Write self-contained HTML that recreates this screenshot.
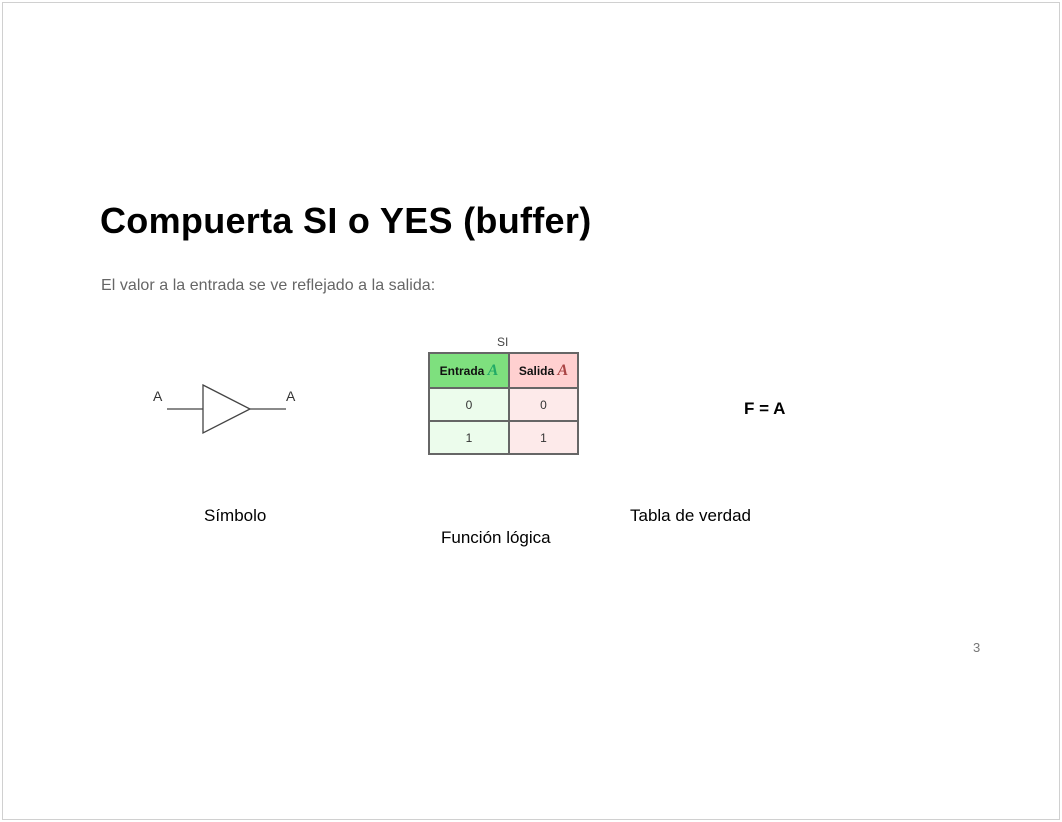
<!DOCTYPE html>
<html><head><style>
body{margin:0;width:1062px;height:822px;background:#fff;position:relative;overflow:hidden;font-family:"Liberation Sans",sans-serif}
.frame{position:absolute;left:2px;top:2px;width:1056px;height:816px;border:1px solid #d0d0d0}
.t{position:absolute;white-space:nowrap}
td{border:2px solid #666;text-align:center;font-size:12px;color:#333;padding:0}
</style></head><body>
<div class="frame"></div>
<div class="t" style="left:100px;top:200px;font-size:36px;font-weight:bold;color:#000;letter-spacing:0.3px">Compuerta SI o YES (buffer)</div>
<div class="t" style="left:101px;top:277px;font-size:16px;color:#666;letter-spacing:0.05px">El valor a la entrada se ve reflejado a la salida:</div>
<svg style="position:absolute;left:0;top:0" width="1062" height="822">
<line x1="167" y1="409" x2="203" y2="409" stroke="#444" stroke-width="1.3"/>
<polygon points="203,385 250,409 203,433" fill="none" stroke="#444" stroke-width="1.3"/>
<line x1="250" y1="409" x2="286" y2="409" stroke="#444" stroke-width="1.3"/>
<text x="153" y="401" font-size="14" fill="#333" font-family="Liberation Sans">A</text>
<text x="286" y="401" font-size="14" fill="#333" font-family="Liberation Sans">A</text>
<text x="497" y="346" font-size="12" fill="#444" font-family="Liberation Sans">SI</text>
</svg>
<table style="position:absolute;left:428px;top:352px;border-collapse:collapse;width:151px;height:103px">
<tr style="height:35px"><td style="background:#7ee07e;font-weight:bold;color:#111;width:78px">Entrada <i style="font-family:'Liberation Serif';font-size:16px;color:#2a6">A</i></td><td style="background:#ffd0d0;font-weight:bold;color:#111">Salida <i style="font-family:'Liberation Serif';font-size:16px;color:#a44">A</i></td></tr>
<tr><td style="background:#ecfcec">0</td><td style="background:#fdeaea">0</td></tr>
<tr><td style="background:#ecfcec">1</td><td style="background:#fdeaea">1</td></tr>
</table>
<div class="t" style="left:744px;top:399px;font-size:17px;font-weight:bold">F = A</div>
<div class="t" style="left:204px;top:506px;font-size:17px">Símbolo</div>
<div class="t" style="left:630px;top:506px;font-size:17px">Tabla de verdad</div>
<div class="t" style="left:441px;top:528px;font-size:17px">Función lógica</div>
<div class="t" style="left:973px;top:640px;font-size:13px;color:#777">3</div>
</body></html>
